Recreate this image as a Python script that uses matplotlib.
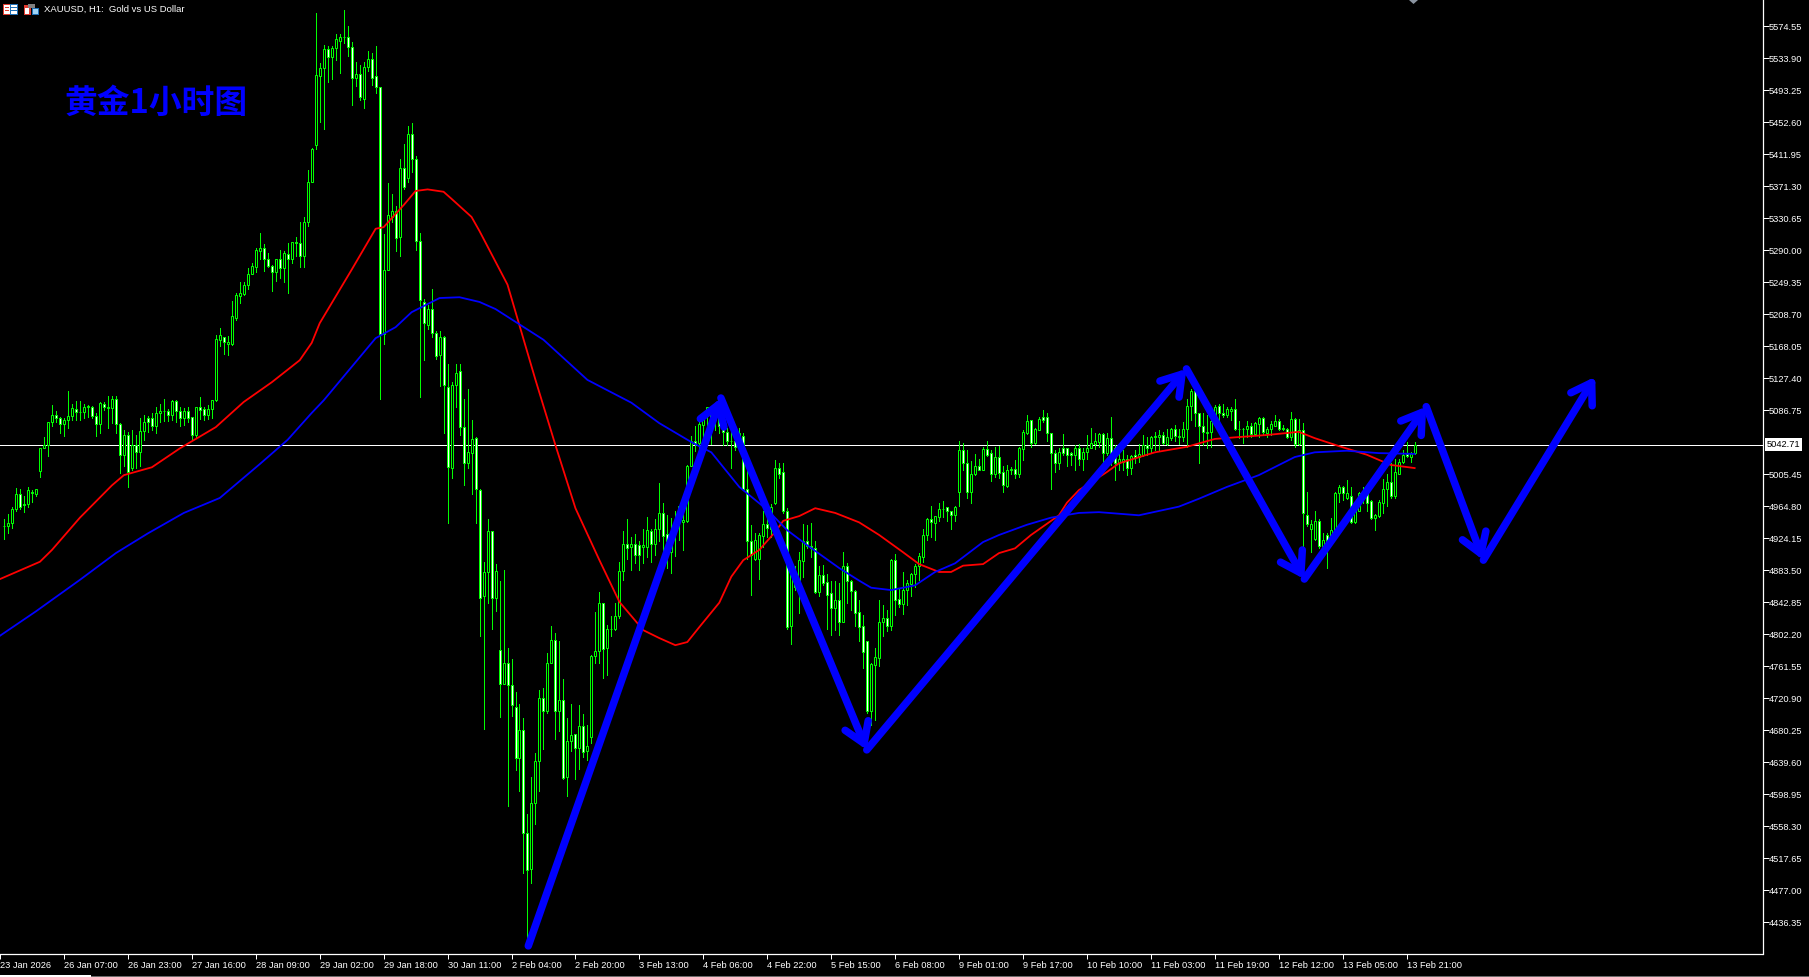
import numpy as np
import matplotlib
matplotlib.use("Agg")
import matplotlib.pyplot as plt
from matplotlib.patches import Rectangle, Polygon

# XAUUSD H1 candles
opens = [
    4939,4939,4943,4961,4980,4967,4967,4983,4980,5009,
    5039,5042,5071,5081,5076,5069,5074,5079,5088,5084,
    5084,5091,5091,5079,5069,5095,5089,5089,5101,5069,
    5029,5055,5013,5042,5033,5060,5076,5076,5067,5083,
    5086,5086,5080,5098,5086,5077,5086,5078,5055,5090,
    5088,5081,5088,5099,5176,5179,5171,5171,5204,5231,
    5234,5245,5260,5269,5289,5293,5278,5270,5262,5278,
    5267,5285,5278,5300,5299,5282,5325,5376,5423,5511,
    5521,5545,5535,5546,5556,5561,5561,5548,5509,5514,
    5482,5522,5533,5511,5497,5183,5264,5332,5339,5306,
    5394,5382,5438,5406,5301,5224,5195,5215,5185,5157,
    5180,5116,5013,5119,5136,5065,5019,5032,5051,4985,
    4850,4881,4933,4848,4782,4739,4766,4737,4710,4645,
    4680,4549,4504,4587,4641,4721,4705,4766,4794,4705,
    4718,4620,4666,4675,4657,4685,4653,4671,4774,4780,
    4841,4784,4808,4808,4825,4882,4917,4913,4916,4915,
    4913,4913,4933,4916,4935,4956,4929,4907,4932,4944,
    4944,4946,5016,5047,5045,5068,5080,5080,5078,5083,
    5066,5059,5047,5048,5047,5054,4986,4920,4898,4898,
    4927,4942,4936,4968,5013,5008,4958,4812,4881,4871,
    4895,4920,4914,4912,4855,4877,4868,4854,4835,4846,
    4818,4888,4869,4857,4830,4812,4793,4704,4763,4772,
    4817,4823,4813,4896,4847,4840,4858,4866,4878,4888,
    4900,4928,4948,4943,4951,4961,4963,4958,4953,4983,
    5036,5020,4982,5005,5016,5011,5037,5032,5006,5027,
    5008,4990,5010,5012,5006,5037,5058,5074,5045,5061,
    5078,5078,5057,5032,5019,5038,5038,5032,5029,5039,
    5024,5033,5039,5044,5046,5056,5032,5051,5038,5020,
    5021,5025,5013,5030,5027,5029,5042,5038,5052,5053,
    5055,5044,5051,5063,5053,5053,5062,5092,5111,5083,
    5067,5058,5059,5073,5092,5083,5081,5085,5088,5062,
    5063,5063,5066,5056,5069,5076,5058,5062,5067,5073,
    5064,5063,5052,5075,5044,5061,4954,4935,4923,4946,
    4914,4928,4926,4934,4981,4989,4975,4977,4945,4958,
    4979,4981,4971,4950,4952,4969,4987,4995,4977,5006,
    5021,5031,5027,5032,
]
closes = [
    4940,4943,4961,4980,4964,4966,4985,4981,4986,5039,
    5042,5071,5081,5076,5069,5074,5079,5089,5084,5084,
    5091,5092,5079,5069,5096,5090,5090,5101,5069,5029,
    5055,5008,5042,5033,5060,5072,5072,5067,5083,5086,
    5086,5080,5098,5086,5077,5085,5077,5055,5090,5087,
    5081,5088,5099,5177,5182,5173,5173,5206,5233,5235,
    5245,5260,5270,5290,5293,5278,5270,5262,5279,5267,
    5286,5278,5300,5299,5282,5325,5376,5418,5512,5521,
    5545,5535,5546,5558,5561,5561,5548,5509,5514,5484,
    5522,5533,5509,5497,5183,5264,5335,5339,5305,5394,
    5370,5438,5406,5301,5227,5197,5215,5185,5155,5180,
    5118,5014,5119,5134,5065,5019,5033,5050,4986,4848,
    4881,4933,4848,4882,4739,4766,4737,4712,4645,4680,
    4549,4503,4587,4641,4721,4705,4766,4794,4705,4719,
    4619,4666,4674,4658,4685,4652,4660,4774,4780,4841,
    4783,4809,4809,4825,4882,4917,4912,4916,4902,4902,
    4915,4934,4917,4935,4956,4927,4920,4932,4947,4965,
    4947,5016,5047,5044,5069,5080,5091,5076,5083,5066,
    5059,5048,5048,5040,5057,4986,4920,4903,4922,4928,
    4942,4937,4964,5013,5006,4958,4811,4881,4862,4896,
    4920,4914,4912,4855,4877,4867,4852,4835,4846,4818,
    4888,4869,4857,4829,4811,4779,4704,4764,4773,4817,
    4823,4813,4896,4845,4840,4858,4867,4878,4889,4901,
    4928,4948,4944,4952,4961,4961,4958,4953,4964,5036,
    5020,4982,5006,5016,5011,5037,5030,5006,5027,5007,
    4991,5010,5012,5006,5038,5059,5073,5045,5062,5075,
    5074,5058,5032,5019,5033,5032,5029,5029,5039,5024,
    5033,5039,5045,5047,5056,5032,5051,5032,5019,5024,
    5025,5013,5028,5027,5031,5042,5038,5052,5054,5055,
    5045,5052,5063,5054,5054,5062,5092,5111,5083,5067,
    5059,5059,5073,5091,5083,5081,5088,5088,5062,5063,
    5062,5066,5056,5070,5076,5059,5063,5069,5073,5062,
    5062,5052,5075,5044,5061,4956,4942,4942,4946,4914,
    4922,4920,4934,4981,4989,4981,4981,4945,4958,4981,
    4981,4969,4950,4953,4970,4987,4995,4977,5008,5021,
    5030,5028,5031,5042.71,
]
highs = [
    4948,4955,4963,4988,4987,4977,4989,4985,4986,5039,
    5053,5072,5093,5085,5078,5076,5111,5095,5098,5098,
    5095,5093,5092,5083,5097,5097,5105,5105,5104,5070,
    5061,5059,5061,5055,5076,5080,5079,5083,5091,5094,
    5101,5088,5100,5099,5090,5089,5090,5078,5091,5103,
    5090,5093,5100,5182,5191,5180,5181,5225,5235,5249,
    5249,5267,5273,5293,5311,5298,5286,5271,5279,5290,
    5289,5299,5300,5306,5325,5332,5392,5419,5591,5527,
    5551,5549,5549,5564,5564,5595,5575,5554,5529,5525,
    5529,5543,5540,5549,5497,5310,5375,5361,5346,5406,
    5425,5448,5451,5409,5312,5228,5220,5240,5187,5187,
    5181,5145,5122,5145,5145,5101,5113,5074,5053,4986,
    4894,4948,4933,4891,4870,4884,4784,4771,4729,4713,
    4696,4574,4620,4651,4731,4733,4778,4812,4804,4793,
    4745,4696,4713,4675,4712,4700,4686,4775,4830,4856,
    4841,4814,4825,4841,4894,4933,4948,4926,4929,4920,
    4935,4951,4936,4948,4994,4969,4953,4949,4958,4965,
    4960,5017,5054,5066,5074,5083,5091,5087,5091,5087,
    5078,5064,5061,5053,5064,5058,5023,4941,4930,4931,
    4958,4951,4967,5023,5020,5019,4962,4892,4888,4907,
    4942,4941,4943,4920,4888,4890,4879,4869,4869,4867,
    4906,4892,4871,4858,4845,4826,4793,4765,4784,4845,
    4839,4833,4898,4904,4859,4881,4871,4880,4891,4905,
    4936,4950,4965,4952,4969,4971,4964,4959,4965,5048,
    5045,5036,5022,5031,5025,5040,5047,5036,5040,5041,
    5016,5017,5014,5023,5040,5061,5080,5074,5064,5078,
    5087,5083,5058,5036,5038,5056,5039,5034,5042,5044,
    5038,5055,5064,5058,5058,5057,5057,5078,5042,5036,
    5036,5029,5030,5036,5044,5055,5053,5054,5059,5061,
    5059,5063,5064,5068,5063,5071,5101,5113,5112,5083,
    5083,5080,5074,5093,5095,5094,5090,5090,5101,5073,
    5064,5073,5070,5071,5078,5078,5065,5073,5080,5075,
    5068,5064,5084,5076,5075,5070,4983,4947,4958,4948,
    4930,4930,4949,4983,4992,4990,4998,4989,4964,4983,
    4989,4987,4973,4955,4973,4999,5006,5019,5025,5025,
    5036,5046,5034,5046,
]
lows = [
    4923,4931,4937,4959,4961,4957,4964,4970,4978,5002,
    5038,5028,5066,5071,5057,5054,5064,5074,5074,5074,
    5076,5078,5077,5054,5057,5087,5064,5070,5058,5007,
    5015,4989,5011,5013,5015,5049,5059,5061,5057,5072,
    5073,5073,5074,5072,5067,5068,5072,5050,5053,5075,
    5074,5075,5076,5098,5168,5158,5157,5169,5201,5223,
    5233,5241,5260,5262,5279,5263,5268,5238,5251,5255,
    5249,5236,5273,5282,5268,5268,5321,5376,5418,5453,
    5444,5504,5507,5532,5515,5553,5536,5474,5498,5481,
    5470,5517,5500,5490,5101,5171,5264,5326,5289,5282,
    5368,5377,5389,5290,5103,5150,5190,5180,5152,5117,
    5058,4943,5001,5090,5055,4992,5013,4980,4943,4800,
    4682,4842,4809,4831,4697,4739,4584,4698,4629,4603,
    4499,4413,4486,4561,4603,4656,4702,4765,4669,4679,
    4618,4596,4654,4618,4631,4646,4642,4664,4766,4765,
    4746,4750,4800,4807,4823,4871,4898,4884,4892,4884,
    4892,4900,4894,4903,4920,4907,4886,4880,4901,4922,
    4909,4945,5015,5035,5036,5047,5068,5044,5061,5057,
    5042,5042,5013,5036,5038,4985,4898,4852,4896,4872,
    4913,4926,4926,4967,5000,4956,4809,4789,4858,4829,
    4875,4911,4900,4854,4850,4864,4809,4801,4807,4801,
    4818,4841,4833,4812,4793,4759,4702,4687,4693,4761,
    4800,4806,4807,4826,4837,4828,4839,4850,4862,4871,
    4894,4922,4926,4922,4946,4951,4946,4936,4946,4965,
    5011,4975,4969,5004,5011,5011,5028,4997,5002,5001,
    4982,4989,5005,5001,5002,5023,5056,5040,5044,5061,
    5072,5047,4986,5008,5012,5030,5016,5017,5011,5017,
    5011,5025,5038,5037,5040,5019,5030,5017,4998,5011,
    5010,5004,5006,5019,5021,5028,5030,5034,5036,5035,
    5044,5042,5049,5047,5044,5047,5040,5074,5066,5020,
    5042,5038,5040,5070,5074,5078,5078,5074,5061,5051,
    5045,5052,5052,5055,5053,5055,5052,5055,5066,5061,
    5061,5051,5049,5040,5042,4909,4940,4907,4922,4911,
    4911,4886,4926,4934,4970,4972,4974,4943,4943,4958,
    4968,4958,4948,4934,4951,4956,4965,4975,4975,5005,
    5020,5027,5021,5031,
]

# moving averages, sampled at the bends of each line
red_bars = [-1,9,12,19,27,30,37,44,53,60,67,74,77,79,87,93,95,100,103,106,110,112,117,119,126,133,138,143,149,154,
            160,164,168,171,174,179,182,185,189,193,195,199,203,208,214,219,225,229,234,237,240,245,249,253,257,
            264,266,269,276,279,288,296,303,308,316,324,328,334,341,347,353]
red_ma = [4872,4894,4909,4950,4991,5004,5014,5038,5065,5097,5122,5150,5172,5197,5265,5317,5319,5347,5365,5367,5364,5355,5332,5314,5246,5125,5042,4962,4896,4843,
          4807,4797,4788,4792,4811,4842,4875,4896,4909,4932,4946,4952,4962,4956,4944,4928,4906,4891,4881,4881,4889,4891,4905,4911,4928,
          4953,4969,4985,5008,5019,5033,5040,5050,5052,5055,5059,5051,5041,5030,5017,5013]
blue_bars = [-1,8,19,28,36,45,54,64,71,77,80,93,98,102,109,114,119,123,135,146,157,164,172,177,184,191,196,201,209,214,
             217,222,228,233,238,245,249,256,262,269,274,284,294,299,306,314,323,328,336,344,353]
blue_ma = [4800,4831,4871,4905,4930,4956,4975,5018,5049,5083,5099,5178,5192,5211,5229,5230,5224,5215,5176,5125,5096,5070,5046,5033,4989,4960,4934,4915,4886,4870,
           4861,4858,4864,4881,4892,4919,4928,4941,4950,4956,4957,4953,4964,4974,4989,5004,5027,5033,5035,5032,5031]

# hand drawn zigzag of arrows
arrow_bars = [131.2, 179.4, 215.9, 295.9, 325.4, 355.9, 370.2, 398.2]
arrow_prices = [4406, 5102, 4655, 5139, 4872, 5091, 4896, 5129]

current_price = 5042.71

price_ticks = [5574.55,5533.90,5493.25,5452.60,5411.95,5371.30,5330.65,5290.00,5249.35,5208.70,5168.05,5127.40,5086.75,
               5005.45,4964.80,4924.15,4883.50,4842.85,4802.20,4761.55,4720.90,4680.25,4639.60,4598.95,4558.30,4517.65,4477.00,4436.35]
time_labels = ["23 Jan 2026","26 Jan 07:00","26 Jan 23:00","27 Jan 16:00","28 Jan 09:00","29 Jan 02:00","29 Jan 18:00",
               "30 Jan 11:00","2 Feb 04:00","2 Feb 20:00","3 Feb 13:00","4 Feb 06:00","4 Feb 22:00","5 Feb 15:00",
               "6 Feb 08:00","9 Feb 01:00","9 Feb 17:00","10 Feb 10:00","11 Feb 03:00","11 Feb 19:00","12 Feb 12:00",
               "13 Feb 05:00","13 Feb 21:00"]
time_ticks = [-1,15,31,47,63,79,95,111,127,143,159,175,191,207,223,239,255,271,287,303,319,335,351]

plt.rcParams['font.family'] = ['Liberation Sans', 'Noto Sans CJK SC', 'DejaVu Sans']

W, H = 1809, 977
GREEN = "#00ff00"
BLUE = "#0000ff"

fig = plt.figure(figsize=(W / 100, H / 100), dpi=100, facecolor="black")
ax = fig.add_axes([0, 23 / H, 1762.5 / W, 954 / H], facecolor="black")

ax.axhline(current_price, color="white", lw=0.72, zorder=1, antialiased=False)

o = np.array(opens, dtype=float)
c = np.array(closes, dtype=float)
idx = np.arange(len(o))
ax.vlines(idx, lows, highs, color=GREEN, lw=0.72, zorder=2, antialiased=False)
up = c >= o
ax.bar(idx[up], (c - o)[up], bottom=o[up], width=0.5, facecolor="black", edgecolor=GREEN, lw=0.72, zorder=2.1)
ax.bar(idx[~up], (o - c)[~up], bottom=c[~up], width=0.5, facecolor="white", edgecolor=GREEN, lw=0.72, zorder=2.1)

ax.plot(red_bars, red_ma, color="#ff0000", lw=1.3, zorder=3)
ax.plot(blue_bars, blue_ma, color=BLUE, lw=1.3, zorder=3)

for i in range(len(arrow_bars) - 1):
    ax.annotate("", xy=(arrow_bars[i + 1], arrow_prices[i + 1]), xytext=(arrow_bars[i], arrow_prices[i]),
                arrowprops=dict(arrowstyle="->,head_length=14,head_width=9", mutation_scale=1, color=BLUE,
                                lw=5.4, shrinkA=0, shrinkB=0), zorder=4)

ax.set_xlim(-0.575, 440.05)
ax.set_ylim(4395.7, 5607.6)

for side in ["top", "left"]:
    ax.spines[side].set_visible(False)
for side in ["right", "bottom"]:
    ax.spines[side].set_color("white")
    ax.spines[side].set_linewidth(0.9)

ax.yaxis.tick_right()
ax.set_yticks(price_ticks)
ax.set_yticklabels(["%.2f" % p for p in price_ticks])
ax.tick_params(axis="y", colors="white", length=4, width=0.72, pad=0.5, labelsize=6.7)
ax.set_xticks(time_ticks)
ax.set_xticklabels(time_labels, ha="left")
ax.tick_params(axis="x", colors="white", length=3.5, width=0.72, pad=1.5, labelsize=6.7)

# current price tag on the axis
ax.annotate("%.2f" % current_price, xy=(1, current_price), xycoords=("axes fraction", "data"),
            xytext=(3, 0), textcoords="offset points", va="center", ha="left", color="black", fontsize=6.7,
            bbox=dict(boxstyle="square,pad=0.2", facecolor="white", edgecolor="white", lw=0))

fig.text(64 / W, 1 - 103.5 / H, "黄金1小时图", color=BLUE, fontsize=23.6, va="center", ha="left",
         family=['Noto Sans CJK SC', 'DejaVu Sans'], fontweight="bold")
fig.text(44 / W, 1 - 9.5 / H, "XAUUSD, H1:  Gold vs US Dollar", color="white", fontsize=6.8, va="center", ha="left")


def px_rect(x, y, w, h, color):
    fig.add_artist(Rectangle((x / W, 1 - (y + h) / H), w / W, h / H, transform=fig.transFigure,
                             facecolor=color, edgecolor="none"))


# the two little toolbar icons in the chart header
px_rect(3, 4, 15, 11, "#e03c31")
px_rect(4, 5, 6, 9, "white")
px_rect(5, 7, 4, 1, "#e03c31")
px_rect(5, 10, 4, 1, "#e03c31")
px_rect(10, 4, 8, 11, "#1f6fb5")
px_rect(11, 5, 6, 9, "white")
px_rect(11, 7, 6, 1, "#1f6fb5")
px_rect(11, 10, 6, 1, "#1f6fb5")
px_rect(24, 5, 7, 10, "#e03c31")
px_rect(25, 8, 4, 6, "white")
px_rect(32, 8, 7, 7, "#1f6fb5")
px_rect(33, 9, 5, 5, "#9fd4f5")
px_rect(28, 4, 7, 4, "#808080")

# bottom window edge and the marker at the top of the chart
px_rect(0, 976, W, 1, "#6a6a6a")
px_rect(0, 975, 91, 2, "white")
fig.add_artist(Polygon([[1409 / W, 1], [1418 / W, 1], [1413.5 / W, 1 - 4 / H]], transform=fig.transFigure,
                       facecolor="#8a94a0", edgecolor="none"))

fig.savefig("out.png", dpi=100, facecolor="black")
